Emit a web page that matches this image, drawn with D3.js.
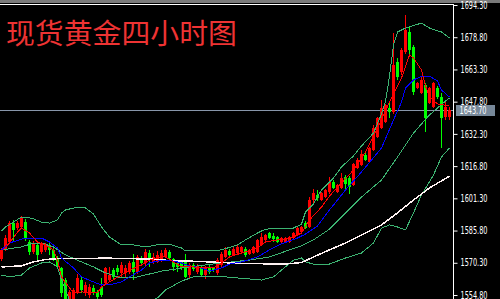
<!DOCTYPE html>
<html>
<head>
<meta charset="utf-8">
<script src="https://cdn.jsdelivr.net/npm/d3@7"></script>
<style>
  html, body { margin: 0; padding: 0; background: #000; }
  svg { display: block; }
</style>
</head>
<body>
<div id="chart"></div>
<script>
// XAUUSD 4H candles (index 0 = leftmost bar)
const opens = [1572.1,1577.0,1580.3,1589.5,1587.1,1587.5,1589.9,1580.3,1575.5,1578.9,
  1575.5,1576.5,1578.9,1576.5,1572.6,1567.8,1562.0,1550.5,1552.0,1556.3,
  1562.0,1555.8,1554.8,1558.2,1556.3,1558.7,1560.6,1562.0,1566.8,1567.8,
  1565.4,1565.4,1565.9,1570.7,1565.9,1572.6,1570.2,1575.0,1570.7,1570.7,
  1571.6,1573.1,1575.5,1572.1,1570.2,1570.7,1571.6,1564.4,1569.2,1565.9,
  1568.3,1564.4,1568.3,1567.8,1565.4,1569.2,1573.1,1576.0,1574.1,1575.0,
  1575.5,1576.9,1574.6,1575.0,1575.5,1578.9,1581.3,1584.6,1583.2,1582.7,
  1580.3,1580.3,1580.3,1582.2,1583.7,1585.1,1589.4,1587.5,1600.5,1602.9,
  1600.5,1602.0,1604.4,1609.2,1604.4,1606.3,1611.6,1611.1,1607.7,1615.9,
  1617.3,1622.2,1618.8,1624.6,1630.8,1635.1,1638.0,1644.8,1642.8,1666.9,
  1662.1,1671.7,1681.3,1674.1,1654.4,1652.0,1655.8,1647.2,1645.2,1654.4,
  1650.0,1640.4,1640.4];
const highs = [1577.5,1583.5,1590.5,1591.0,1590.2,1592.8,1591.4,1581.3,1580.8,1579.8,
  1580.5,1579.8,1580.3,1577.2,1573.5,1568.5,1563.0,1557.0,1558.0,1565.0,
  1563.5,1561.0,1560.0,1559.6,1557.2,1563.0,1568.5,1568.3,1567.8,1569.0,
  1570.7,1569.2,1571.0,1574.6,1574.0,1573.5,1576.9,1576.4,1575.0,1576.0,
  1576.5,1577.4,1576.5,1572.6,1570.7,1571.6,1574.6,1570.2,1570.0,1569.5,
  1569.0,1568.8,1569.0,1568.5,1572.6,1575.5,1577.9,1576.9,1577.9,1578.9,
  1578.4,1577.9,1577.0,1578.4,1581.8,1584.6,1584.2,1585.1,1584.6,1583.2,
  1582.7,1582.7,1583.2,1585.1,1587.5,1588.0,1590.4,1602.0,1605.8,1605.3,
  1604.4,1605.8,1611.6,1610.2,1608.2,1613.5,1612.5,1612.0,1618.3,1620.7,
  1624.6,1623.1,1626.0,1636.6,1640.4,1648.6,1646.7,1647.2,1680.8,1668.8,
  1673.6,1689.5,1683.7,1675.1,1657.3,1659.7,1656.8,1654.9,1657.3,1655.4,
  1652.0,1648.1,1645.2];
const lows = [1571.0,1576.0,1579.5,1581.0,1586.0,1586.5,1581.0,1574.1,1574.5,1570.7,
  1574.6,1575.5,1574.1,1571.0,1567.5,1554.0,1549.0,1549.0,1551.0,1555.5,
  1556.0,1554.5,1553.5,1554.8,1552.9,1554.0,1559.5,1561.0,1562.5,1564.5,
  1563.5,1563.0,1565.0,1562.0,1565.0,1569.5,1568.3,1568.3,1569.7,1570.2,
  1570.7,1572.6,1572.0,1566.3,1565.9,1566.8,1563.0,1562.5,1566.5,1565.0,
  1563.5,1562.5,1565.0,1566.0,1564.5,1568.5,1572.5,1573.5,1573.6,1574.1,
  1575.0,1573.1,1574.1,1574.6,1575.0,1578.4,1580.8,1581.7,1580.3,1579.8,
  1579.8,1579.8,1579.8,1581.7,1583.2,1584.6,1586.5,1587.0,1599.1,1600.0,
  1600.0,1601.5,1603.4,1605.8,1603.9,1605.8,1605.3,1603.4,1607.2,1615.4,
  1616.9,1619.2,1618.3,1624.1,1630.3,1634.6,1637.5,1639.9,1641.9,1658.2,
  1660.6,1670.7,1670.7,1651.0,1653.9,1651.5,1633.2,1646.7,1644.7,1649.1,
  1625.5,1639.0,1639.0];
const closes = [1576.5,1582.2,1589.5,1586.1,1589.5,1591.9,1582.2,1575.5,1579.8,1574.1,
  1579.8,1578.9,1576.5,1571.6,1568.3,1556.0,1551.0,1556.3,1557.2,1563.0,
  1557.2,1559.6,1558.7,1555.8,1553.9,1554.8,1567.8,1564.4,1563.5,1565.9,
  1569.2,1567.8,1570.2,1565.9,1573.1,1570.2,1575.5,1571.6,1573.1,1574.1,
  1575.0,1576.5,1572.6,1568.3,1568.3,1567.8,1563.5,1569.2,1567.3,1568.8,
  1564.4,1568.3,1565.9,1566.8,1571.6,1574.6,1576.5,1574.1,1576.9,1577.9,
  1577.9,1574.1,1576.5,1577.9,1581.3,1582.7,1583.7,1582.2,1581.7,1580.3,
  1582.2,1582.2,1582.7,1584.6,1587.0,1587.5,1587.0,1600.5,1603.9,1601.5,
  1603.9,1605.3,1609.2,1606.3,1607.7,1611.1,1608.2,1606.8,1617.8,1619.7,
  1622.6,1619.7,1625.5,1635.1,1639.9,1644.8,1646.2,1642.8,1665.4,1659.7,
  1672.7,1682.3,1672.7,1652.5,1656.8,1658.2,1639.9,1654.4,1656.8,1650.0,
  1639.9,1645.2,1643.7];

// indicator lines as [bar index, price]
const redMA = [[0,1575.5],[2,1579.8],[4,1585.1],[5,1587.0],[7,1584.6],[9,1580.3],[11,1578.9],
  [13,1576.5],[14,1571.6],[15,1563.5],[17,1558.2],[18,1555.8],[20,1556.3],[24,1555.8],
  [25,1558.7],[27,1561.1],[30,1564.4],[32,1566.8],[35,1569.2],[37,1571.6],[40,1573.1],
  [41,1573.1],[43,1570.7],[45,1568.3],[48,1568.3],[50,1567.8],[53,1567.8],[55,1570.2],
  [57,1573.1],[60,1575.0],[64,1577.4],[66,1580.3],[69,1581.3],[71,1581.7],[73,1582.7],
  [75,1584.6],[77,1590.9],[80,1597.1],[82,1602.4],[85,1608.7],[88,1614.9],[91,1623.6],
  [94,1635.1],[97,1647.6],[100,1659.2],[102,1670.2],[103,1668.8],[105,1663.0],
  [106,1655.3],[107,1650.0],[109,1646.7],[112,1645.7]];
const blueMA = [[0,1576.5],[2,1579.8],[5,1581.7],[7,1582.2],[10,1582.2],[12,1580.3],[14,1577.4],
  [15,1572.6],[18,1567.8],[20,1563.5],[23,1561.1],[25,1559.6],[28,1560.1],[30,1561.1],
  [32,1563.5],[35,1566.8],[37,1570.2],[40,1571.6],[42,1571.6],[45,1570.2],[47,1568.8],
  [50,1567.8],[52,1566.3],[55,1567.8],[57,1569.7],[60,1570.7],[64,1573.1],[67,1576.5],
  [70,1579.4],[74,1582.2],[76,1584.1],[79,1588.0],[82,1595.7],[86,1605.3],[90,1614.0],
  [95,1625.5],[98,1639.0],[100,1647.6],[101,1654.4],[103,1658.2],[105,1660.1],
  [107,1660.1],[109,1657.7],[110,1653.4],[112,1650.0]];
const whiteMA = [[0,1568.3],[5,1568.8],[8,1570.7],[11,1571.9],[15,1572.4],[27,1572.5],
  [37,1572.1],[42,1571.4],[50,1570.9],[55,1570.4],[62,1569.9],[71,1569.7],[75,1570.4],
  [78,1573.1],[82,1576.5],[86,1579.8],[90,1583.7],[95,1588.5],[99,1594.3],[103,1600.5],
  [107,1606.3],[112,1612.0]];
const bbUpper = [[0,1585.6],[1,1587.5],[3,1589.9],[5,1592.3],[6,1592.3],[8,1591.4],[10,1589.9],
  [12,1589.4],[14,1590.9],[15,1594.2],[16,1595.7],[19,1597.1],[21,1596.7],[23,1593.8],
  [25,1587.5],[27,1582.7],[30,1578.9],[33,1578.9],[36,1577.9],[40,1579.3],[42,1579.3],
  [45,1577.4],[46,1576.0],[52,1576.0],[55,1576.5],[59,1578.9],[61,1581.3],[64,1584.6],
  [66,1586.5],[73,1587.0],[75,1588.9],[76,1594.7],[78,1598.6],[80,1605.3],[83,1611.1],
  [85,1616.4],[88,1621.7],[90,1626.5],[93,1632.7],[95,1641.9],[96,1648.0],[97,1660.0],
  [98,1675.1],[99,1681.3],[101,1683.2],[105,1685.6],[107,1683.2],[110,1681.3],[112,1678.4]];
const bbMiddle = [[0,1576.5],[5,1577.9],[8,1579.8],[10,1579.8],[13,1577.9],[16,1574.1],
  [20,1570.7],[23,1568.3],[26,1565.4],[30,1563.0],[33,1563.0],[37,1564.9],[40,1566.3],
  [47,1568.3],[55,1570.2],[62,1571.6],[67,1573.1],[72,1576.5],[75,1578.4],[78,1581.3],
  [82,1586.5],[86,1594.3],[90,1601.9],[95,1610.1],[99,1621.2],[103,1632.7],[107,1641.4],
  [111,1648.1],[112,1649.5]];
const bbLower = [[0,1564.4],[2,1563.5],[5,1564.4],[7,1567.8],[10,1570.2],[12,1570.7],[14,1568.3],
  [15,1562.0],[17,1552.4],[20,1542.8],[25,1538.0],[30,1545.2],[35,1550.0],[39,1553.4],
  [41,1557.2],[45,1561.5],[48,1563.5],[56,1563.5],[62,1562.5],[65,1562.0],[68,1563.5],
  [70,1566.8],[73,1571.6],[75,1572.6],[76,1570.7],[78,1569.7],[82,1569.7],[86,1572.6],
  [90,1575.0],[93,1579.8],[95,1587.0],[97,1588.5],[99,1587.5],[101,1586.1],[103,1594.3],
  [105,1603.0],[108,1612.5],[110,1621.2],[112,1625.5]];

const priceTicks = [1694.3,1678.8,1663.3,1647.8,1632.3,1616.8,1601.3,1585.8,1570.3,1554.8];
const lastPrice = 1643.70;
const title = '现货黄金四小时图';

const W = 500, H = 299, plotRight = 453, plotTop = 4;
const svg = d3.select('#chart').append('svg').attr('width', W).attr('height', H);
svg.append('rect').attr('width', W).attr('height', H).attr('fill', '#000');
svg.append('rect').attr('width', W).attr('height', 3).attr('fill', '#7a7a7a');

svg.append('clipPath').attr('id', 'plot')
  .append('rect').attr('x', 0).attr('y', plotTop + 1).attr('width', plotRight).attr('height', H - plotTop);

const N = opens.length;
const x = d3.scaleBand().domain(d3.range(N)).range([-0.5, 451.5]).paddingInner(0.25).paddingOuter(0.125);
const y = d3.scaleLinear().domain([1554.8, 1694.3]).range([295, 5]);
const cx = i => x(i) + x.bandwidth() / 2;

const g = svg.append('g').attr('clip-path', 'url(#plot)');

// bid line
g.append('line').attr('x1', 0).attr('x2', plotRight)
  .attr('y1', Math.round(y(lastPrice)) + 0.5).attr('y2', Math.round(y(lastPrice)) + 0.5)
  .attr('stroke', '#8896aa').attr('stroke-width', 1);

const bars = d3.range(N).map(i => ({i, o: opens[i], h: highs[i], l: lows[i], c: closes[i]}));
const col = d => d.c >= d.o ? '#ff0000' : '#00ff00';

g.selectAll('.wick').data(bars).enter().append('rect')
  .attr('x', d => x(d.i) + 1).attr('width', 1)
  .attr('y', d => Math.round(y(d.h)))
  .attr('height', d => Math.max(1, Math.round(y(d.l)) - Math.round(y(d.h))))
  .attr('fill', col);
g.selectAll('.body').data(bars).enter().append('rect')
  .attr('x', d => x(d.i)).attr('width', x.bandwidth())
  .attr('y', d => Math.round(y(Math.max(d.o, d.c))))
  .attr('height', d => Math.max(1, Math.round(y(Math.min(d.o, d.c))) - Math.round(y(Math.max(d.o, d.c)))))
  .attr('fill', col);

const line = d3.line().x(d => cx(d[0])).y(d => y(d[1]));
[[bbUpper, '#3cb371', 1], [bbMiddle, '#3cb371', 1], [bbLower, '#3cb371', 1],
 [whiteMA, '#fff2f2', 1.5], [blueMA, '#0000ff', 1], [redMA, '#ff0000', 1]].forEach(([data, c, w]) => {
  g.append('path').datum(data).attr('fill', 'none').attr('stroke', c).attr('stroke-width', w)
    .attr('shape-rendering', 'crispEdges').attr('d', line);
});

// frame
svg.append('line').attr('x1', 0).attr('x2', plotRight + 0.5).attr('y1', plotTop + 0.5).attr('y2', plotTop + 0.5)
  .attr('stroke', '#fff');

// price axis
const axis = svg.append('g').attr('transform', `translate(${plotRight + 0.5},0)`)
  .call(d3.axisRight(y).tickValues(priceTicks).tickFormat(d3.format('.2f')).tickSize(4).tickPadding(3));
axis.select('.domain').attr('stroke', '#fff').attr('d', `M0,${plotTop}V${H}`);
axis.selectAll('.tick line').attr('stroke', '#fff');
axis.selectAll('.tick text').attr('fill', '#fff')
  .style('font-family', '"Liberation Sans Narrow", "DejaVu Sans Condensed", sans-serif')
  .style('font-size', '10px').attr('textLength', 27).attr('lengthAdjust', 'spacingAndGlyphs');

// last price tag
const ly = y(lastPrice);
svg.append('rect').attr('x', 456).attr('y', Math.round(ly) - 5).attr('width', 39).attr('height', 11).attr('fill', '#778899');
svg.append('text').attr('x', 459.5).attr('y', ly).attr('dy', '0.34em').attr('fill', '#fff')
  .style('font-family', '"Liberation Sans Narrow", "DejaVu Sans Condensed", sans-serif')
  .style('font-size', '10px').attr('textLength', 27).attr('lengthAdjust', 'spacingAndGlyphs')
  .text(d3.format('.2f')(lastPrice));

svg.append('text').attr('x', 6).attr('y', 44).attr('fill', '#ee3333')
  .style('font-family', '"Noto Sans CJK SC", sans-serif').style('font-size', '28px')
  .attr('textLength', 231).attr('lengthAdjust', 'spacingAndGlyphs')
  .text(title);
</script>
</body>
</html>
